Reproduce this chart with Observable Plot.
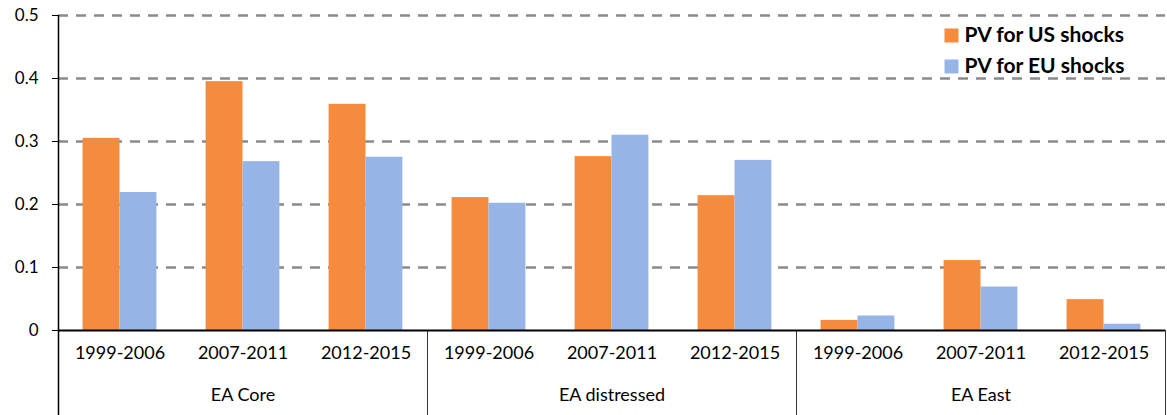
<!DOCTYPE html>
<html><head><meta charset="utf-8">
<script src="https://cdn.jsdelivr.net/npm/d3@7"></script>
<script src="https://cdn.jsdelivr.net/npm/@observablehq/plot@0.6"></script>
<style>body{margin:0;background:#fff;} svg{display:block;}</style>
</head><body><div id="chart"></div>
<script>
const groups = ["EA Core", "EA distressed", "EA East"];
const periods = ["1999-2006", "2007-2011", "2012-2015"];
const series = ["PV for US shocks", "PV for EU shocks"];
const usValues = [0.305, 0.395, 0.359, 0.211, 0.276, 0.214, 0.016, 0.111, 0.049];
const euValues = [0.219, 0.268, 0.275, 0.202, 0.310, 0.270, 0.023, 0.069, 0.010];
const yTicks = [0, 0.1, 0.2, 0.3, 0.4, 0.5];
const colors = ["#F58B3D", "#97B4E6"];

const cats = groups.flatMap((g, gi) => periods.map((p, pi) => ({group: g, period: p, i: gi * periods.length + pi})));
const rows = cats.flatMap(c => [
  {series: series[0], value: usValues[c.i], x1: c.i + 0.2, x2: c.i + 0.5},
  {series: series[1], value: euValues[c.i], x1: c.i + 0.5, x2: c.i + 0.8}
]);
const groupPos = groups.map((g, gi) => ({group: g, x: gi * periods.length + periods.length / 2}));
const seps = groups.map((g, gi) => gi * periods.length).concat([cats.length]);

const font = "Lato, 'Open Sans', sans-serif";
const chart = Plot.plot({
  width: 1167, height: 415,
  marginLeft: 58, marginRight: 2, marginTop: 15, marginBottom: 85,
  style: {fontFamily: font, fontSize: "17px", color: "#000", background: "#fff"},
  x: {type: "linear", domain: [0, cats.length], axis: null},
  y: {domain: [0, 0.5], axis: null},
  color: {domain: series, range: colors},
  marks: [
    Plot.ruleY(yTicks.filter(d => d > 0), {stroke: "#8a8a8a", strokeWidth: 2.5, strokeDasharray: "10,8"}),
    Plot.rectY(rows, {x1: "x1", x2: "x2", y: "value", fill: "series"}),
    Plot.ruleX(seps.slice(1), {y1: -0.135, y2: 0, stroke: "#333", strokeWidth: 1, clip: false}),
    Plot.ruleX([0], {y1: -0.135, y2: 0.5, stroke: "#000", strokeWidth: 1.5}),
    Plot.ruleY([0], {stroke: "#000", strokeWidth: 2}),
    Plot.axisY({ticks: yTicks, tickFormat: d => d === 0 ? "0" : d.toFixed(1), tickSize: 6, tickPadding: 14, fontSize: 17, label: null, anchor: "left"}),
    Plot.text(cats, {x: d => d.i + 0.5, text: "period", frameAnchor: "bottom", dy: 28, fontSize: 18, fill: "#000"}),
    Plot.text(groupPos, {x: "x", text: "group", frameAnchor: "bottom", dy: 70, fontSize: 18, fill: "#000"}),
    ...series.map((s, si) => Plot.dot([s], {frameAnchor: "top-right", dx: -214, dy: 20 + si * 31, symbol: "square", r: 7.9, fill: colors[si]})),
    ...series.map((s, si) => Plot.text([s], {text: d => d, frameAnchor: "top-right", dx: -201, dy: 20 + si * 31, textAnchor: "start", lineAnchor: "middle", fontSize: 21, fontWeight: "bold", fill: "#000"}))
  ]
});
document.getElementById("chart").append(chart);
</script>
</body></html>
